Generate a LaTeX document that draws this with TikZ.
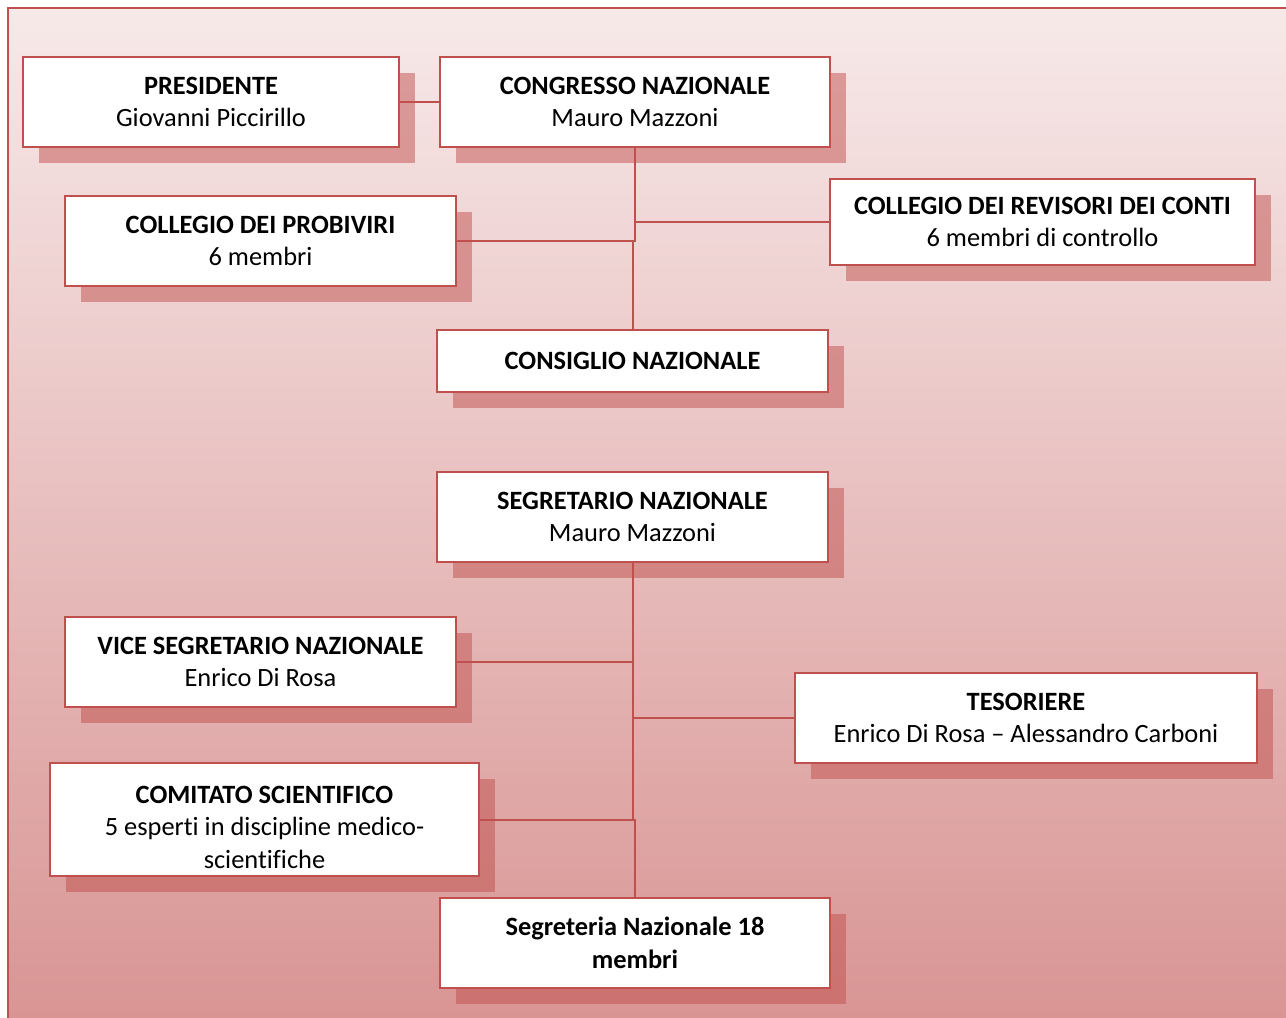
\documentclass[tikz,border=0pt]{standalone}
\usepackage{fontspec}
\setmainfont[Ligatures=NoCommon]{Carlito}
\usetikzlibrary{shadows}
\definecolor{boxred}{RGB}{192,80,77}
\definecolor{bgtop}{RGB}{247,233,233}
\definecolor{bgbot}{RGB}{216,148,147}
\tikzset{orgbox/.style={draw=boxred, fill=white, line width=1pt, align=center,
    inner sep=2pt, font=\fontsize{13.2}{16.3}\selectfont,
    drop shadow={shadow xshift=8pt, shadow yshift=-8pt, fill=boxred, opacity=0.5}}}

\begin{document}
\begin{tikzpicture}[x=0.5pt,y=-0.5pt,link/.style={draw=boxred, line width=1pt}]
    \useasboundingbox (0,0) rectangle (1286,1018);
    \clip (0,0) rectangle (1286,1018);
    \shade[top color=bgtop, bottom color=bgbot, draw=boxred, line width=1pt] (8,8) rectangle (1300,1030);

    % upper part
    \node[orgbox, minimum width=188pt, minimum height=45pt] (presidente) at (211,102) {\textbf{PRESIDENTE}\\Giovanni Piccirillo};
    \node[orgbox, minimum width=195pt, minimum height=45pt] (congresso) at (635,102) {\textbf{CONGRESSO NAZIONALE}\\Mauro Mazzoni};
    \node[orgbox, minimum width=195.5pt, minimum height=45pt] (probiviri) at (260.5,241) {\textbf{COLLEGIO DEI PROBIVIRI}\\6 membri};
    \node[orgbox, minimum width=212.5pt, minimum height=43pt] (revisori) at (1042.5,222) {\textbf{COLLEGIO DEI REVISORI DEI CONTI}\\6 membri di controllo};
    \node[orgbox, minimum width=195.5pt, minimum height=31pt] (consiglio) at (632.5,361) {\textbf{CONSIGLIO NAZIONALE}};

    % lower part
    \node[orgbox, minimum width=195.5pt, minimum height=45pt] (segretario) at (632.5,517) {\textbf{SEGRETARIO NAZIONALE}\\Mauro Mazzoni};
    \node[orgbox, minimum width=195.5pt, minimum height=45pt] (vice) at (260.5,662) {\textbf{VICE SEGRETARIO NAZIONALE}\\Enrico Di Rosa};
    \node[orgbox, minimum width=231pt, minimum height=45pt] (tesoriere) at (1026,718) {\textbf{TESORIERE}\\Enrico Di Rosa -- Alessandro Carboni};
    \node[orgbox, minimum width=214.5pt, minimum height=56.5pt] (comitato) at (264.5,819.5) {\rule{0pt}{16.5pt}\textbf{COMITATO SCIENTIFICO}\\5 esperti in discipline medico-\\scientifiche};
    \node[orgbox, minimum width=195pt, minimum height=45pt] (segreteria) at (635,943) {\textbf{Segreteria Nazionale 18}\\\textbf{membri}};

    \draw[link] (presidente) -- (congresso);
    \draw[link] (congresso.south) |- (probiviri.east);
    \draw[link] (congresso.south) |- (revisori.west);
    \draw[link] (consiglio.north) |- (probiviri.east);

    \draw[link] (segretario.south) |- (vice.east);
    \draw[link] (segretario.south) |- (tesoriere.west);
    \draw[link] (segreteria.north) |- (comitato.east);
    \draw[link] (segretario.south) |- (comitato.east);
\end{tikzpicture}
\end{document}
